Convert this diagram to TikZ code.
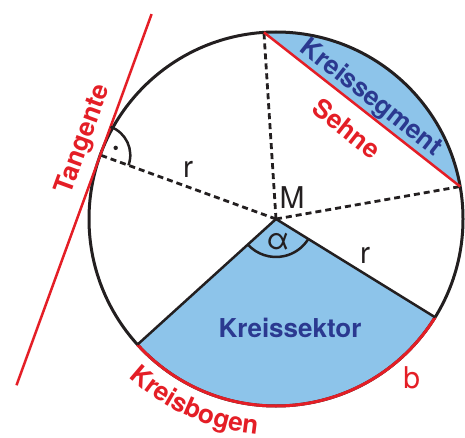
\documentclass[tikz,border=0pt]{standalone}
\usepackage{fontspec}
\setsansfont{TeX Gyre Heros}
\usepackage{tikz}
\usetikzlibrary{calc, decorations.text}
\definecolor{kred}{RGB}{228,30,38}
\definecolor{kfill}{RGB}{141,196,234}
\definecolor{kblue}{RGB}{43,57,144}
\definecolor{kblack}{RGB}{35,31,32}
\tikzset{
  redlbl/.style={text=kred, font=\sffamily\bfseries\fontsize{26}{30}\selectfont},
  bluelbl/.style={text=kblue, font=\sffamily\bfseries\fontsize{26}{30}\selectfont},
  lbl/.style={text=kblack, font=\sffamily\fontsize{30}{34}\selectfont},
  dashline/.style={kblack, line width=2.8pt, dash pattern=on 6pt off 4pt}
}
\begin{document}
\begin{tikzpicture}[x=1pt, y=1pt, line width=2.5pt]
    \useasboundingbox (0,0) rectangle (465,437);
    \coordinate (M) at (276,218);
    \coordinate (A) at ($(M)+(93.7:187)$);
    \coordinate (B) at ($(M)+(10:187)$);
    \coordinate (T) at ($(M)+(160:187)$);
    \coordinate (S1) at ($(M)+(222.2:187)$);
    \coordinate (S2) at ($(M)+(328.3:187)$);
    \coordinate (Tb) at ($(T)+(250:245)$);
    \coordinate (Tt) at ($(T)+(70:150)$);
    \fill[kfill] (M) -- (S1) arc[start angle=222.2, end angle=328.3, radius=187] -- cycle;
    \fill[kfill] (A) arc[start angle=93.7, end angle=10, radius=187] -- cycle;
    \draw[kblack, line width=3pt] (M) circle[radius=187];
    \draw[kred, line width=3pt] (S1) arc[start angle=222.2, end angle=328.3, radius=187];
    \draw[dashline] (M) -- node[lbl, above=5pt] {r} (T);
    \draw[dashline] (M) -- (A);
    \draw[dashline] (M) -- (B);
    \draw[kblack] (S1) -- (M) -- node[lbl, above right=0pt] {r} (S2);
    \draw[kblack] ($(M)+(222.2:38)$) arc[start angle=222.2, end angle=328.3, radius=38];
    \draw[kred] (A) -- node[bluelbl, sloped, above=-3pt] {Kreissegment} node[redlbl, sloped, below=10pt] {Sehne} (B);
    \draw[kred] (Tb) -- node[redlbl, sloped, pos=0.643, above=4pt] {Tangente} (Tt);
    \draw[kblack] ($(T)+(-20:30)$) arc[start angle=-20, end angle=70, radius=30];
    \fill[kblack] ($(T)+(25:17)$) circle[radius=2.2];
    \node[lbl] (Mlbl) at ($(M)+(16,21)$) {M};
    \node[lbl] (alpha) at ($(M)+(2,-23)$) {α};
    \node[lbl, text=kred] (blbl) at ($(M)+(-49.5:209)$) {b};
    \node[bluelbl] (sektor) at ($(M)+(14,-109)$) {Kreissektor};
    \path[decorate, decoration={text along path, text align=center, text color=kred,
      text={|\sffamily\bfseries\fontsize{26}{30}\selectfont|Kreisbogen}}]
      ($(M)+(221:216)$) arc[start angle=221, end angle=271, radius=216];
\end{tikzpicture}
\end{document}
